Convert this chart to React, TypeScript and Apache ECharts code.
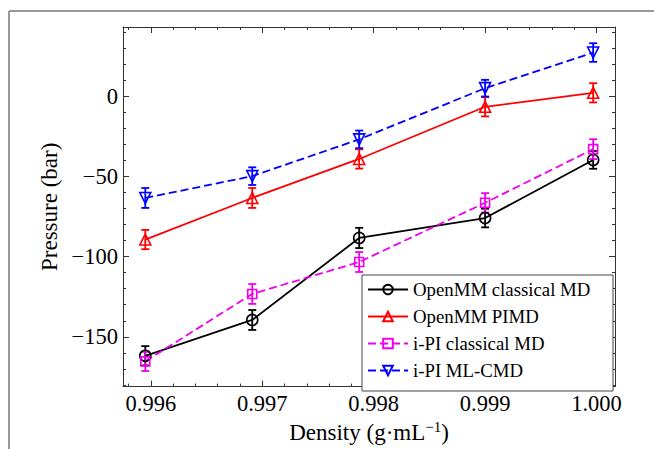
import React, { useEffect, useRef } from "react";
import * as echarts from "echarts";

const density = [0.99595, 0.99691, 0.99787, 0.999, 0.99997];
const openmmClassical = [-161.8, -139.5, -88.4, -76.0, -39.8];
const openmmClassicalErr = [6.0, 6.2, 6.3, 5.8, 5.5];
const openmmPimd = [-89.4, -63.5, -39.2, -6.7, 2.0];
const openmmPimdErr = [6.0, 6.2, 6.0, 6.0, 6.0];
const ipiClassical = [-165.3, -123.3, -103.4, -66.5, -33.1];
const ipiClassicalErr = [6.0, 6.2, 6.2, 6.0, 6.2];
const ipiCmd = [-63.5, -49.9, -27.0, 4.9, 27.1];
const ipiCmdErr = [6.2, 5.5, 5.5, 5.2, 5.8];

const seriesNames = ["OpenMM classical MD", "OpenMM PIMD", "i-PI classical MD", "i-PI ML-CMD"];

const xMin = 0.99575;
const xMax = 1.000166;
const yMin = -181;
const yMax = 43;

const FONT = "'Liberation Serif', 'Times New Roman', 'DejaVu Serif', serif";
const AXIS_COLOR = "#333";

export default function App() {
  const ref = useRef<HTMLDivElement>(null);
  useEffect(() => {
    if (!ref.current) return;
    const chart = echarts.init(ref.current, undefined, { renderer: "svg" });

    const defs = [
      { name: seriesNames[0], y: openmmClassical, e: openmmClassicalErr, color: "#000000", symbol: "circle", rotate: 0, dash: "solid" },
      { name: seriesNames[1], y: openmmPimd, e: openmmPimdErr, color: "#ff0000", symbol: "triangle", rotate: 0, dash: "solid" },
      { name: seriesNames[2], y: ipiClassical, e: ipiClassicalErr, color: "#ee00ee", symbol: "rect", rotate: 0, dash: [8, 4] },
      { name: seriesNames[3], y: ipiCmd, e: ipiCmdErr, color: "#0000ff", symbol: "triangle", rotate: 180, dash: [8, 4] },
    ];

    const series: any[] = [];
    defs.forEach((d) => {
      const col = d.color;
      series.push({
        type: "custom",
        xAxisIndex: 0,
        yAxisIndex: 0,
        silent: true,
        z: 3,
        encode: { x: 0, y: 1 },
        data: density.map((x, i) => [x, d.y[i], d.e[i]]),
        renderItem: (params: any, api: any) => {
          const x = api.value(0);
          const y = api.value(1);
          const e = api.value(2);
          const t = api.coord([x, y + e]);
          const b = api.coord([x, y - e]);
          const w = 4;
          const st = { stroke: col, lineWidth: 1.8 };
          return {
            type: "group",
            children: [
              { type: "line", shape: { x1: t[0], y1: t[1], x2: b[0], y2: b[1] }, style: st },
              { type: "line", shape: { x1: t[0] - w, y1: t[1], x2: t[0] + w, y2: t[1] }, style: st },
              { type: "line", shape: { x1: b[0] - w, y1: b[1], x2: b[0] + w, y2: b[1] }, style: st },
            ],
          };
        },
      });
      series.push({
        type: "line",
        name: d.name,
        xAxisIndex: 0,
        yAxisIndex: 0,
        z: 4,
        data: density.map((x, i) => [x, d.y[i]]),
        symbol: d.symbol,
        symbolSize: d.symbol === "rect" ? 9 : 11,
        symbolRotate: d.rotate,
        showSymbol: true,
        lineStyle: { color: col, width: 1.8, type: d.dash },
        itemStyle: { color: "rgba(255,255,255,0)", borderColor: col, borderWidth: 1.6 },
        emphasis: { disabled: true },
      });
    });

    const majorX = (pos: string, withLabel: boolean) => ({
      type: "value",
      position: pos,
      min: xMin,
      max: xMax,
      minInterval: 0.001,
      maxInterval: 0.001,
      splitNumber: 5,
      axisLine: { show: true, onZero: false, lineStyle: { color: AXIS_COLOR, width: 1 } },
      axisTick: { show: true, inside: true, length: 6, lineStyle: { color: AXIS_COLOR } },
      axisLabel: {
        show: withLabel,
        showMinLabel: false,
        showMaxLabel: false,
        margin: 5,
        color: "#000",
        fontFamily: FONT,
        fontSize: 22.5,
        formatter: (v: number) => v.toFixed(3),
      },
      splitLine: { show: false },
    });
    const minorX = (pos: string) => ({
      type: "value",
      position: pos,
      min: xMin,
      max: xMax,
      minInterval: 0.0002,
      maxInterval: 0.0002,
      splitNumber: 22,
      axisLine: { show: false, onZero: false },
      axisTick: { show: true, inside: true, length: 3, lineStyle: { color: AXIS_COLOR } },
      axisLabel: { show: false },
      splitLine: { show: false },
    });
    const majorY = (pos: string, withLabel: boolean) => ({
      type: "value",
      position: pos,
      min: yMin,
      max: yMax,
      minInterval: 50,
      maxInterval: 50,
      splitNumber: 5,
      axisLine: { show: true, onZero: false, lineStyle: { color: AXIS_COLOR, width: 1 } },
      axisTick: { show: true, inside: true, length: 6, lineStyle: { color: AXIS_COLOR } },
      axisLabel: {
        show: withLabel,
        showMinLabel: false,
        showMaxLabel: false,
        margin: 5,
        color: "#000",
        fontFamily: FONT,
        fontSize: 22.5,
        formatter: (v: number) => String(v).replace("-", "\u2212"),
      },
      splitLine: { show: false },
    });
    const minorY = (pos: string) => ({
      type: "value",
      position: pos,
      min: yMin,
      max: yMax,
      minInterval: 10,
      maxInterval: 10,
      splitNumber: 22,
      axisLine: { show: false, onZero: false },
      axisTick: { show: true, inside: true, length: 3, lineStyle: { color: AXIS_COLOR } },
      axisLabel: { show: false },
      splitLine: { show: false },
    });

    const xMain: any = majorX("bottom", true);
    xMain.name = "{a|Density (g\u00b7mL}{s|\u22121}{a|)}";
    xMain.nameLocation = "middle";
    xMain.nameGap = 25;
    xMain.nameTextStyle = {
      rich: {
        a: { fontFamily: FONT, fontSize: 23, color: "#000", lineHeight: 26 },
        s: { fontFamily: FONT, fontSize: 15, color: "#000", verticalAlign: "top", lineHeight: 26 },
      },
    };
    const yMain: any = majorY("left", true);
    yMain.name = "Pressure (bar)";
    yMain.nameLocation = "middle";
    yMain.nameGap = 54;
    yMain.nameTextStyle = { fontFamily: FONT, fontSize: 23, color: "#000" };

    chart.setOption({
      animation: false,
      backgroundColor: "#fff",
      grid: { left: 123, top: 27, right: 39, bottom: 54, containLabel: false },
      xAxis: [xMain, minorX("bottom"), majorX("top", false), minorX("top")],
      yAxis: [yMain, minorY("left"), majorY("right", false), minorY("right")],
      legend: {
        data: seriesNames,
        orient: "vertical",
        left: 362,
        top: 275,
        itemWidth: 40,
        itemHeight: 12,
        itemGap: 8,
        padding: [5, 14, 11, 5],
        backgroundColor: "#fff",
        borderColor: "#444",
        borderWidth: 1,
        borderRadius: 0,
        textStyle: { fontFamily: FONT, fontSize: 18.8, color: "#000", lineHeight: 18, width: 186 },
        selectedMode: false,
      },
      graphic: [
        { type: "line", shape: { x1: 9, y1: 11, x2: 654, y2: 11 }, style: { stroke: "#777", lineWidth: 1.5 }, silent: true },
        { type: "line", shape: { x1: 9, y1: 11, x2: 9, y2: 449 }, style: { stroke: "#777", lineWidth: 1.5 }, silent: true },
      ],
      series,
    });
    return () => chart.dispose();
  }, []);
  return <div ref={ref} style={{ width: 654, height: 449, position: "fixed", left: 0, top: 0 }} />;
}
